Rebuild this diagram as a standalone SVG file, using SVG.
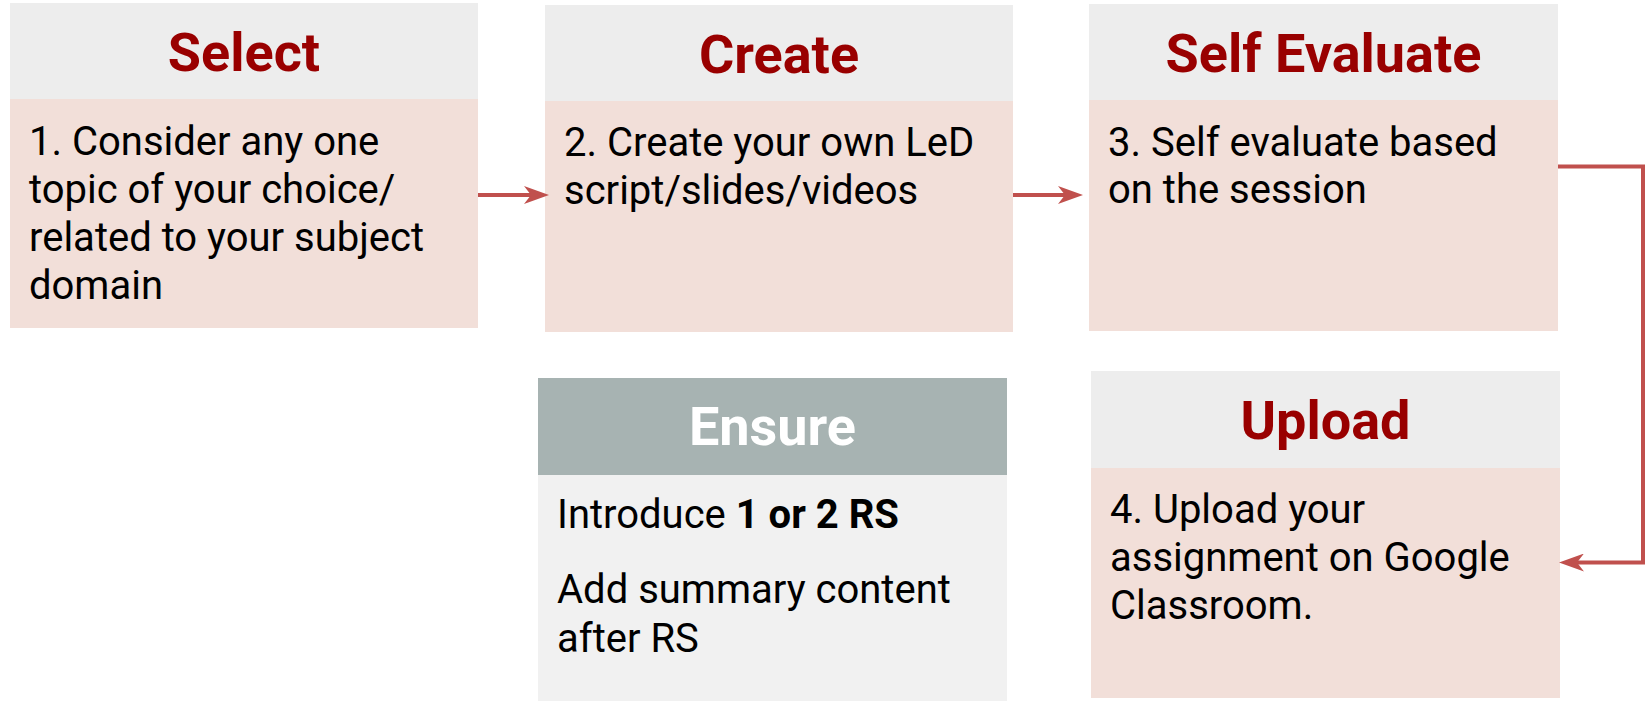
<svg xmlns="http://www.w3.org/2000/svg" width="1645" height="701" viewBox="0 0 1645 701">
<defs>
<style>
.hd{fill:#ededed}
.bd{fill:#f2dfd9}
.ttl{font-family:Roboto,"Liberation Sans",sans-serif;font-weight:bold;font-size:54px;fill:#990000;text-anchor:middle}
.txt{font-family:Roboto,"Liberation Sans",sans-serif;font-size:40px;fill:#000}
.con{fill:none;stroke:#c0504d;stroke-width:4;stroke-linejoin:miter}
</style>
<marker id="ah" markerUnits="userSpaceOnUse" viewBox="0 0 25 18" refX="15" refY="9" markerWidth="25" markerHeight="18" orient="auto">
<path d="M0,0 L25,9 L0,18 L7,9 Z" fill="#c0504d"/>
</marker>
</defs>
<rect width="1645" height="701" fill="#ffffff"/>
<g id="select">
<rect class="hd" x="10" y="3" width="468" height="96"/>
<rect class="bd" x="10" y="99" width="468" height="229"/>
<text class="ttl" x="244" y="71">Select</text>
<text class="txt" x="29" y="155">1. Consider any one</text>
<text class="txt" x="29" y="203">topic of your choice/</text>
<text class="txt" x="29" y="251">related to your subject</text>
<text class="txt" x="29" y="299">domain</text>
</g>
<g id="create">
<rect class="hd" x="545" y="5" width="468" height="96"/>
<rect class="bd" x="545" y="101" width="468" height="231"/>
<text class="ttl" x="779" y="73">Create</text>
<text class="txt" x="564" y="156">2. Create your own LeD</text>
<text class="txt" x="564" y="204">script/slides/videos</text>
</g>
<g id="self-evaluate">
<rect class="hd" x="1089" y="4" width="469" height="96"/>
<rect class="bd" x="1089" y="100" width="469" height="231"/>
<text class="ttl" x="1323.5" y="72">Self Evaluate</text>
<text class="txt" x="1108" y="156">3. Self evaluate based</text>
<text class="txt" x="1108" y="203">on the session</text>
</g>
<g id="ensure">
<rect x="538" y="378" width="469" height="97" fill="#a7b3b2"/>
<rect x="538" y="475" width="469" height="226" fill="#f1f1f1"/>
<text class="ttl" x="772.5" y="445" style="fill:#ffffff">Ensure</text>
<text class="txt" x="557" y="528">Introduce <tspan font-weight="bold">1 or 2 RS</tspan></text>
<text class="txt" x="557" y="603">Add summary content</text>
<text class="txt" x="557" y="652">after RS</text>
</g>
<g id="upload">
<rect class="hd" x="1091" y="371" width="469" height="97"/>
<rect class="bd" x="1091" y="468" width="469" height="230"/>
<text class="ttl" x="1325.5" y="439">Upload</text>
<text class="txt" x="1110" y="523">4. Upload your</text>
<text class="txt" x="1110" y="571">assignment on Google</text>
<text class="txt" x="1110" y="619">Classroom.</text>
</g>
<g id="connectors">
<path class="con" d="M478,195 H539" marker-end="url(#ah)"/>
<path class="con" d="M1013,195 H1073" marker-end="url(#ah)"/>
<path class="con" d="M1558,166.5 H1643 V562.5 H1569" marker-end="url(#ah)"/>
</g>
</svg>
